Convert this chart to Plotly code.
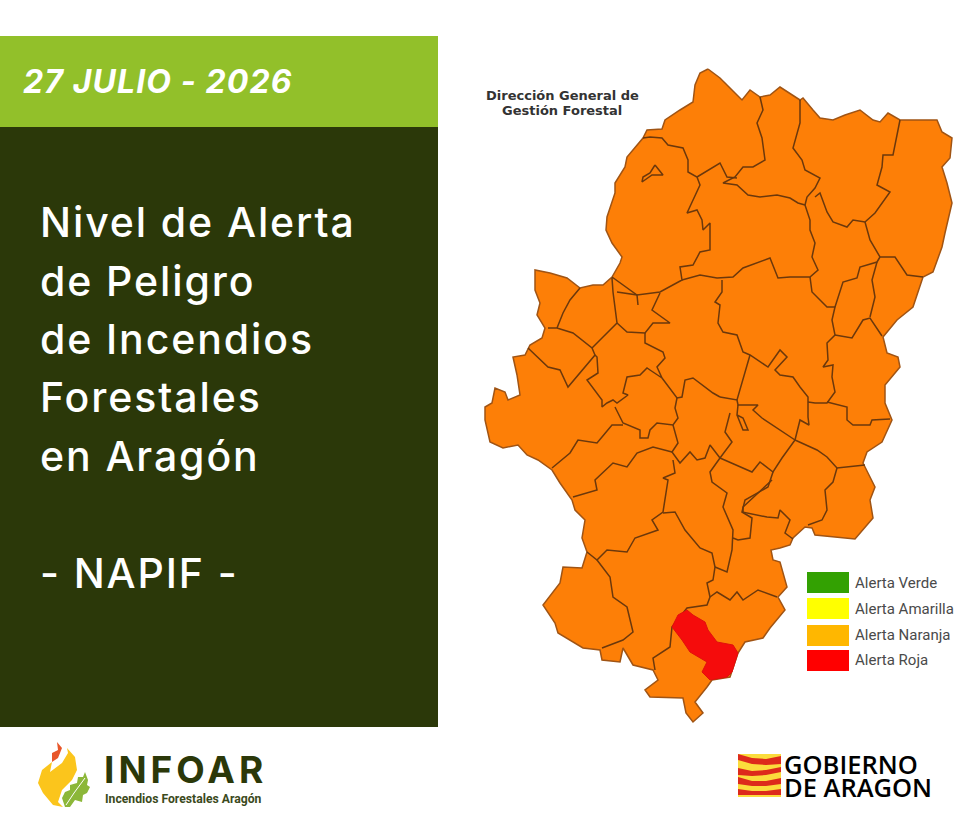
import plotly.graph_objects as go

date_text = "27 JULIO - 2026"
title_lines = ["Nivel de Alerta", "de Peligro", "de Incendios", "Forestales", "en Aragón", "", "- NAPIF -"]
credit_lines = ["Dirección General de", "Gestión Forestal"]
legend_labels = ["Alerta Verde", "Alerta Amarilla", "Alerta Naranja", "Alerta Roja"]
legend_colors = ["#33a102", "#ffff00", "#ffb700", "#ff0000"]

# map, x/y in picture pixels
aragon_outline = [
    (708, 69), (700, 73), (695, 85), (693, 102), (680, 110), (665, 120), (662, 129), (647, 130), (643, 138),
    (627, 157), (625, 167), (615, 183), (615, 193), (607, 217), (606, 230), (612, 243), (622, 257), (620, 263),
    (612, 277), (603, 285), (593, 285), (580, 288), (567, 278), (550, 273), (535, 270), (535, 290), (540, 303),
    (537, 315), (545, 328), (542, 338), (530, 345), (525, 355), (513, 357), (517, 375), (520, 395), (508, 400),
    (505, 392), (495, 388), (492, 403), (485, 407), (485, 420), (490, 442), (503, 448), (518, 445), (527, 455),
    (538, 460), (552, 470), (560, 483), (572, 500), (575, 510), (585, 520), (582, 538), (587, 552), (582, 568),
    (563, 567), (560, 583), (543, 605), (555, 623), (558, 633), (583, 648), (600, 650), (602, 660), (620, 662),
    (623, 648), (633, 665), (653, 670), (658, 680), (645, 690), (650, 697), (683, 698), (686, 713), (693, 722),
    (703, 713), (695, 702), (707, 687), (712, 680), (730, 677), (738, 653), (745, 642), (763, 638), (770, 628),
    (785, 610), (778, 597), (787, 587), (780, 562), (773, 560), (771, 550), (780, 548), (790, 545), (793, 538),
    (805, 527), (812, 528), (815, 535), (855, 539), (873, 518), (870, 500), (875, 487), (863, 463), (867, 452),
    (882, 442), (892, 420), (885, 403), (885, 385), (900, 367), (898, 357), (887, 353), (883, 337), (897, 320),
    (913, 307), (923, 277), (933, 272), (942, 247), (945, 233), (952, 203), (947, 183), (942, 167), (950, 158),
    (952, 138), (942, 132), (937, 120), (900, 120), (888, 113), (880, 122), (873, 120), (860, 110), (845, 115),
    (833, 120), (820, 118), (813, 110), (803, 98), (800, 100), (780, 87), (770, 95), (760, 97), (750, 90),
    (742, 100), (735, 93), (720, 78), (708, 69),
]
red_zone = [
    (687, 610), (678, 615), (672, 627), (682, 640), (690, 652), (707, 662), (702, 672), (710, 680), (727, 677),
    (732, 672), (738, 653), (733, 645), (717, 642), (708, 630), (705, 622), (693, 615), (687, 610),
]

border_a = [(643, 138), (650, 137), (662, 138), (668, 145), (683, 148), (688, 160), (688, 172), (697, 177), (700, 185),
            (693, 200), (687, 213), (697, 210), (702, 220), (703, 230), (710, 223), (710, 250), (700, 252), (693, 265),
            (680, 267), (682, 280), (660, 292), (637, 295), (612, 277)]
border_b = [(697, 177), (720, 163), (727, 177), (737, 178)]
border_c = [(760, 97), (763, 110), (757, 123), (762, 138), (765, 160), (753, 167), (743, 167), (735, 177), (723, 183),
            (737, 185), (748, 195), (760, 197), (777, 195), (790, 198), (798, 203), (805, 205)]
border_d = [(800, 100), (800, 123), (793, 148), (802, 160), (805, 170), (820, 178), (815, 188), (807, 197), (805, 205)]
border_e = [(815, 197), (820, 193), (827, 212), (833, 222), (847, 227), (853, 220), (865, 222), (875, 213), (890, 192),
            (877, 185), (882, 167), (883, 155), (893, 155), (900, 120)]
border_f = [(805, 205), (810, 220), (810, 230), (815, 243), (812, 257), (818, 270), (810, 277), (790, 277), (778, 278),
            (770, 258), (743, 268), (733, 277), (717, 278), (700, 275), (682, 280)]
border_g = [(865, 222), (870, 240), (880, 257), (895, 257), (907, 275), (923, 277)]
border_h = [(722, 280), (722, 292), (715, 302), (720, 305), (718, 323), (723, 332), (737, 335), (743, 352), (750, 355),
            (768, 367), (780, 350), (787, 357), (775, 370), (780, 375), (793, 377), (800, 387), (808, 397), (808, 417),
            (809, 425), (800, 420), (795, 440)]
border_i = [(810, 277), (812, 292), (827, 307), (835, 307), (832, 320), (835, 335), (827, 343), (828, 360), (823, 367),
            (833, 365), (832, 377), (835, 392), (827, 403), (815, 403), (808, 402)]
border_j = [(835, 335), (852, 338), (863, 320), (870, 318), (882, 336)]
border_k = [(835, 307), (843, 282), (857, 278), (860, 267), (877, 262), (880, 257)]
border_k2 = [(877, 262), (872, 280), (875, 297), (870, 317)]
border_m = [(827, 402), (847, 407), (847, 420), (853, 425), (870, 425), (872, 420), (890, 419)]
border_n = [(750, 355), (737, 400), (720, 397)]
border_o = [(737, 400), (738, 405), (758, 405), (753, 410), (762, 418), (795, 440)]
border_p = [(738, 405), (737, 415), (743, 418), (748, 430), (743, 430), (737, 415)]
border_q = [(730, 413), (725, 432), (732, 442), (720, 458), (710, 445), (705, 458), (697, 460), (690, 452), (680, 463),
            (672, 452), (678, 443), (673, 425)]
border_r = [(720, 458), (740, 467), (752, 472), (760, 462), (773, 472), (782, 458), (795, 440)]
border_s = [(795, 440), (817, 450), (827, 457), (837, 468), (865, 465)]
border_t = [(837, 468), (833, 482), (825, 490), (827, 510), (822, 520), (808, 525)]
border_u = [(773, 472), (768, 487), (745, 500), (742, 512), (767, 517), (778, 518), (780, 510), (790, 520), (785, 533),
            (793, 539)]
border_v = [(742, 512), (752, 518), (750, 538), (738, 540), (733, 538)]
border_w = [(720, 458), (710, 472), (712, 482), (727, 493), (723, 507), (733, 530), (732, 550), (727, 572), (715, 567)]
border_x = [(557, 328), (563, 313), (570, 300), (580, 288)]
border_y = [(548, 328), (557, 328), (573, 333), (592, 348), (595, 355), (577, 377), (568, 387), (560, 370), (548, 367),
            (528, 348)]
border_z = [(592, 348), (613, 327), (617, 323), (613, 292), (612, 278)]
border_aa = [(617, 323), (627, 332), (645, 333), (653, 323), (670, 323), (657, 313), (652, 310), (660, 293)]
border_ab = [(617, 292), (637, 295), (638, 305)]
border_ac = [(645, 333), (645, 343), (663, 352), (665, 358), (657, 367), (662, 378), (650, 370), (647, 368), (640, 375),
             (627, 377), (623, 393), (628, 395), (617, 403), (613, 400), (607, 403), (602, 407), (602, 400), (587, 380),
             (598, 373), (597, 357), (595, 355)]
border_ad = [(662, 378), (677, 398), (682, 397), (685, 380), (693, 378), (713, 393), (720, 397)]
border_ae = [(677, 398), (675, 408), (678, 418), (673, 425), (657, 423), (650, 430), (648, 438), (640, 438), (640, 430),
             (623, 423), (615, 407)]
border_af = [(623, 425), (612, 425), (602, 437), (597, 443), (578, 440), (570, 453), (552, 468)]
border_ag = [(672, 452), (653, 447), (637, 453), (627, 467), (613, 463), (595, 480), (597, 490), (573, 497)]
border_ah = [(673, 460), (675, 473), (663, 478), (668, 480), (663, 512), (652, 520), (658, 530), (635, 538), (627, 552),
             (607, 550), (597, 560), (587, 552)]
border_ai = [(597, 560), (610, 577), (613, 597), (627, 607), (633, 632), (623, 640), (602, 648)]
border_aj = [(663, 513), (675, 512), (685, 530), (700, 548), (712, 553), (715, 567), (713, 580), (707, 583), (710, 597),
             (707, 605), (687, 608), (672, 627), (670, 647), (653, 658), (655, 670)]
border_ak = [(710, 597), (717, 592), (730, 600), (737, 592), (743, 600), (758, 590), (777, 597)]
border_al = [(743, 513), (743, 507), (772, 480)]
lake_loop = [(655, 165), (663, 175), (652, 175), (642, 182), (643, 177), (650, 173), (655, 165)]

inner_borders = [border_a, border_b, border_c, border_d, border_e, border_f, border_g, border_h, border_i, border_j,
                 border_k, border_k2, border_m, border_n, border_o, border_p, border_q, border_r, border_s, border_t,
                 border_u, border_v, border_w, border_x, border_y, border_z, border_aa, border_ab, border_ac, border_ad,
                 border_ae, border_af, border_ag, border_ah, border_ai, border_aj, border_ak, border_al, lake_loop]

# logos
flame_yellow = [(67, 748), (75, 757), (77, 770), (72, 780), (62, 790), (58, 802), (63, 807), (53, 805), (43, 793),
                (38, 783), (42, 770), (52, 762), (50, 772), (62, 763), (68, 753), (67, 748)]
flame_red = [(57, 742), (62, 748), (58, 758), (52, 762), (52, 753), (58, 750), (57, 742)]
leaf_green = [(65, 807), (62, 798), (65, 792), (70, 790), (70, 785), (77, 783), (78, 777), (83, 777), (85, 772),
              (88, 780), (87, 785), (90, 787), (87, 793), (83, 795), (82, 802), (75, 800), (70, 807), (65, 807)]
leaf_vein = [(66, 805), (74, 793), (85, 778)]
flag_yellow = [(738, 754), (781, 754), (781, 797), (738, 797), (738, 754)]
flag_band_1 = [(738, 754), (752, 758), (766, 759), (781, 756), (781, 764), (766, 765), (752, 764), (738, 760), (738, 754)]
flag_band_2 = [(738, 768), (752, 771), (766, 770), (781, 767), (781, 772), (766, 775), (752, 776), (738, 775), (738, 768)]
flag_band_3 = [(738, 777), (752, 781), (766, 781), (781, 778), (781, 784), (766, 786), (752, 786), (738, 784), (738, 777)]
flag_band_4 = [(738, 789), (752, 791), (766, 791), (781, 789), (781, 795), (766, 795), (752, 795), (738, 795), (738, 789)]


def poly(points, fill, line_color=None, width=0):
    xs, ys = zip(*points)
    return go.Scatter(x=xs, y=ys, mode="lines", fill="toself", fillcolor=fill, hoverinfo="skip", showlegend=False,
                      line=dict(color=line_color or fill, width=width))


def path(points, color, width):
    xs, ys = zip(*points)
    return go.Scatter(x=xs, y=ys, mode="lines", hoverinfo="skip", showlegend=False,
                      line=dict(color=color, width=width, shape="linear"))


def label(x, y, text, size, color, family, weight=400, anchor="left", style="normal"):
    return dict(x=x, y=y, xref="x", yref="y", text=text, showarrow=False, xanchor=anchor, yanchor="middle",
                font=dict(size=size, color=color, family=family, weight=weight, style=style))


fig = go.Figure()
fig.add_trace(poly(aragon_outline, "#fd7f07", "#a05414", 1.5))
for border in inner_borders:
    fig.add_trace(path(border, "#6b380c", 1.5))
fig.add_trace(poly(red_zone, "#f50c0c", "#e0100c", 1))

fig.add_trace(poly(flame_yellow, "#fbc51c"))
fig.add_trace(poly(flame_red, "#e8562a"))
fig.add_trace(poly(leaf_green, "#8cb739"))
fig.add_trace(path(leaf_vein, "#ffffff", 1))
fig.add_trace(poly(flag_yellow, "#fbdc3c"))
for band in [flag_band_1, flag_band_2, flag_band_3, flag_band_4]:
    fig.add_trace(poly(band, "#dd2a1b"))

shapes = [
    dict(type="rect", x0=0, x1=438, y0=36, y1=127, fillcolor="#92c02a", line_width=0, layer="below"),
    dict(type="rect", x0=0, x1=438, y0=127, y1=727, fillcolor="#2b3809", line_width=0, layer="below"),
]
for i, color in enumerate(legend_colors):
    y0 = [572, 598, 625, 650][i]
    shapes.append(dict(type="rect", x0=807, x1=849, y0=y0, y1=y0 + 21, fillcolor=color, line_width=0, layer="below"))

annotations = [label(21, 81, date_text, 32, "#ffffff", "Inter", 700, style="italic")]
for text, y in zip(title_lines, [222, 281, 339, 397, 456, 515, 573]):
    if text:
        annotations.append(label(38, y, text, 41, "#ffffff", "Inter", 500))
for text, y in zip(credit_lines, [95, 110]):
    annotations.append(label(562, y, text, 13, "#333333", "DejaVu Sans", 700, anchor="center"))
for text, y in zip(legend_labels, [583, 609, 635, 660]):
    annotations.append(label(853, y, text, 15, "#4a4a4a", "Roboto"))
annotations.append(label(102, 769, "INFOAR", 37, "#2b3809", "Inter", 700))
annotations.append(label(103, 799, "Incendios Forestales Aragón", 12.2, "#3b4a1c", "Roboto", 700))
annotations.append(label(782, 764, "GOBIERNO", 25.5, "#000000", "Open Sans", 600))
annotations.append(label(782, 787, "DE ARAGON", 25.5, "#000000", "Open Sans", 600))

fig.update_layout(
    width=980, height=822, margin=dict(l=0, r=0, t=0, b=0),
    paper_bgcolor="#ffffff", plot_bgcolor="#ffffff",
    xaxis=dict(range=[0, 980], visible=False, fixedrange=True),
    yaxis=dict(range=[822, 0], visible=False, fixedrange=True),
    shapes=shapes, annotations=annotations, showlegend=False,
)

# page margin off, and plotly has no letter spacing of its own
# text is middle anchored, so push it right by half the added width to keep the left edge
post_script = """
document.body.style.margin = '0';
document.body.style.overflow = 'hidden';
var spacing = {'32': 1.1, '41': 1.9, '37': 4};
document.querySelectorAll('.annotation-text').forEach(function (t) {
    var s = spacing[String(parseFloat(t.style.fontSize))];
    if (s) {
        t.style.letterSpacing = s + 'px';
        t.setAttribute('x', parseFloat(t.getAttribute('x')) + s * t.textContent.length / 2);
    }
});
"""
fig.write_html("out.html", config=dict(displayModeBar=False), post_script=post_script)
